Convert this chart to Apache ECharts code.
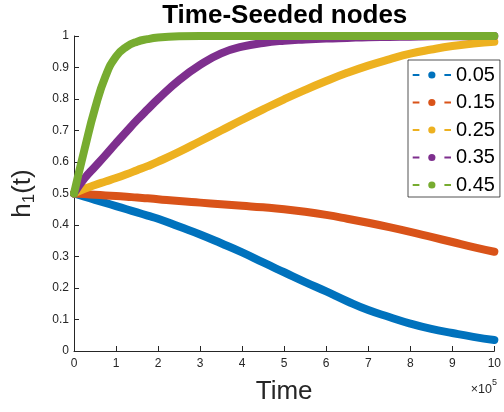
<!DOCTYPE html>
<html>
<head>
<meta charset="utf-8">
<script src="https://cdn.jsdelivr.net/npm/echarts@6/dist/echarts.min.js"></script>
<style>
  html, body { margin: 0; padding: 0; background: #fff; }
  #chart { width: 504px; height: 412px; }
</style>
</head>
<body>
<div id="chart"></div>
<script>
// Time axis values, in units of 10^5
var timeE5 = [0, 0.25, 0.5, 0.75, 1, 1.25, 1.5, 1.75, 2, 2.5, 3, 3.5, 4, 4.5, 5, 5.5, 6, 6.5, 7, 7.5, 8, 8.5, 9, 9.5, 10];

var seriesNames = ['0.05', '0.15', '0.25', '0.35', '0.45'];

var h005 = [0.5, 0.49, 0.48, 0.47, 0.46, 0.45, 0.44, 0.43, 0.42, 0.395, 0.37, 0.342, 0.313, 0.281, 0.25, 0.219, 0.189, 0.158, 0.13, 0.108, 0.087, 0.07, 0.057, 0.045, 0.035];
var h015 = [0.5, 0.498, 0.496, 0.494, 0.492, 0.49, 0.487, 0.485, 0.482, 0.476, 0.471, 0.466, 0.461, 0.456, 0.45, 0.442, 0.432, 0.42, 0.407, 0.393, 0.378, 0.362, 0.346, 0.33, 0.315];
var h025 = [0.5, 0.515, 0.527, 0.538, 0.549, 0.561, 0.574, 0.587, 0.601, 0.632, 0.666, 0.7, 0.734, 0.767, 0.799, 0.829, 0.857, 0.883, 0.906, 0.926, 0.944, 0.957, 0.968, 0.976, 0.982];
var h035 = [0.5, 0.548, 0.585, 0.622, 0.66, 0.697, 0.733, 0.767, 0.8, 0.86, 0.908, 0.945, 0.966, 0.978, 0.985, 0.989, 0.992, 0.994, 0.996, 0.997, 0.998, 0.999, 0.999, 1.0, 1.0];
var h045 = [0.5, 0.64, 0.77, 0.872, 0.935, 0.966, 0.982, 0.99, 0.995, 0.999, 1, 1, 1, 1, 1, 1, 1, 1, 1, 1, 1, 1, 1, 1, 1];

var xTicks = [0, 1, 2, 3, 4, 5, 6, 7, 8, 9, 10];
var yTicks = [0, 0.1, 0.2, 0.3, 0.4, 0.5, 0.6, 0.7, 0.8, 0.9, 1];

var colors = ['#0072BD', '#D95319', '#EDB120', '#7E2F8E', '#77AC30'];
var allValues = [h005, h015, h025, h035, h045];

var FONT = '"Liberation Sans", Arial, Helvetica, sans-serif';
var AX = '#262626';

function pairs(vals) {
  return timeE5.map(function (t, i) { return [t, vals[i]]; });
}

var series = seriesNames.map(function (name, k) {
  return {
    name: name,
    type: 'line',
    data: pairs(allValues[k]),
    symbol: 'none',
    smooth: 0.5,
    clip: false,
    lineStyle: { width: 8, color: colors[k], cap: 'round', join: 'round' },
    itemStyle: { color: colors[k] },
    emphasis: { disabled: true },
    z: 2 + k
  };
});

var chart = echarts.init(document.getElementById('chart'), null, { renderer: 'canvas' });
chart.setOption({
  animation: false,
  backgroundColor: '#fff',
  color: colors,
  title: [
    {
      text: 'Time-Seeded nodes',
      left: 284.75,
      top: 3,
      textAlign: 'center',
      padding: 0,
      textStyle: { fontFamily: FONT, fontSize: 26, fontWeight: 'bold', color: '#000' }
    },
    {
      text: '×10{sup|5}',
      right: 7,
      top: 378.5,
      padding: 0,
      textStyle: {
        fontFamily: FONT, fontSize: 12.5, fontWeight: 'normal', color: AX, lineHeight: 22,
        rich: {
          sup: { fontFamily: FONT, fontSize: 9, color: AX, verticalAlign: 'top', lineHeight: 8 }
        }
      }
    }
  ],
  legend: {
    data: seriesNames,
    orient: 'vertical',
    left: 408,
    top: 60,
    padding: [5, 5, 2, 3.7],
    itemGap: 7.5,
    itemWidth: 38.3,
    itemHeight: 9,
    backgroundColor: '#fff',
    borderColor: AX,
    borderWidth: 0.8,
    selectedMode: false,
    textStyle: { fontFamily: FONT, fontSize: 20, color: '#000' },
    itemStyle: { borderWidth: 0 },
    lineStyle: { width: 2, type: [6.7, 25], cap: 'butt' }
  },
  grid: { left: 72.5, top: 36, width: 424.5, height: 315 },
  xAxis: {
    type: 'value',
    min: 0,
    max: 10,
    interval: 1,
    name: 'Time',
    nameLocation: 'middle',
    nameGap: 28,
    nameTextStyle: { fontFamily: FONT, fontSize: 26, color: AX },
    axisLine: { show: true, onZero: false, lineStyle: { color: AX, width: 1 } },
    axisTick: { show: true, inside: true, length: 5, lineStyle: { color: AX, width: 1 } },
    axisLabel: {
      margin: 7, fontFamily: FONT, fontSize: 12, color: AX,
      formatter: function (v) { return String(Math.round(v)); }
    },
    splitLine: { show: false }
  },
  yAxis: {
    type: 'value',
    min: 0,
    max: 1,
    interval: 0.1,
    name: 'h{sub|1}(t)',
    nameLocation: 'middle',
    nameGap: 36,
    nameTextStyle: {
      fontFamily: FONT, fontSize: 26, color: AX, lineHeight: 30,
      rich: {
        sub: { fontFamily: FONT, fontSize: 17, color: AX, verticalAlign: 'bottom', lineHeight: 14 }
      }
    },
    axisLine: { show: true, onZero: false, lineStyle: { color: AX, width: 1 } },
    axisTick: { show: true, inside: true, length: 5, lineStyle: { color: AX, width: 1 } },
    axisLabel: {
      margin: 5, fontFamily: FONT, fontSize: 12, color: AX,
      formatter: function (v) { return String(parseFloat(v.toFixed(1))); }
    },
    splitLine: { show: false }
  },
  series: series
});
</script>
</body>
</html>
